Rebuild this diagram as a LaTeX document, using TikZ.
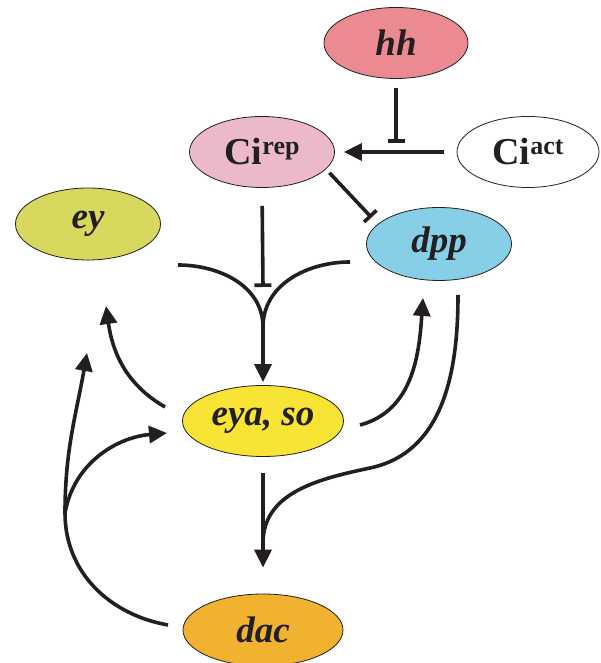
\documentclass[tikz,border=0pt]{standalone}
\usepackage{fontspec}
\setmainfont{Liberation Serif}
\usepackage{xcolor}
\usepackage{tikz}
\usetikzlibrary{arrows.meta,positioning,calc,shapes.geometric}
\definecolor{inkc}{RGB}{35,31,32}
\definecolor{hhc}{RGB}{236,138,145}
\definecolor{repc}{RGB}{236,185,203}
\definecolor{eyc}{RGB}{214,217,94}
\definecolor{dppc}{RGB}{134,207,230}
\definecolor{soc}{RGB}{247,228,53}
\definecolor{dacc}{RGB}{241,179,47}
\newcommand{\gene}[1]{\fontsize{37}{40}\selectfont\bfseries\itshape #1}
\newcommand{\cistate}[1]{\fontsize{38}{40}\selectfont\bfseries Ci\raisebox{10pt}{\fontsize{26}{28}\selectfont #1}}

\begin{document}
\begin{tikzpicture}[x=1pt,y=1pt,
    genebox/.style={ellipse,draw=inkc,line width=0.8pt,inner sep=0pt,text=inkc,
      minimum width=145pt,minimum height=72pt},
    act/.style={draw=inkc,line width=3.6pt,-{Triangle[length=18pt,width=17pt]}},
    inhib/.style={draw=inkc,line width=3.6pt,-{Bar[width=17pt]}},
    link/.style={draw=inkc,line width=3.6pt}]
\useasboundingbox (0,0) rectangle (600,663);
% genes
\node[genebox,fill=hhc,minimum width=144pt,minimum height=71pt] (hh) at (396,620) {\gene{hh}};
\node[genebox,fill=repc,minimum height=71pt] (cirep) at (262,511) {\cistate{rep}};
\node[genebox,fill=white,minimum width=142pt,minimum height=71pt] (ciact) at (528,511) {\cistate{act}};
\node[genebox,fill=eyc] (ey) at (88,439) {\gene{ey}};
\node[genebox,fill=dppc,minimum height=73pt] (dpp) at (439,419) {\gene{dpp}};
\node[genebox,fill=soc,minimum width=161pt,minimum height=71pt] (eya) at (263,242) {\gene{eya, so}};
\node[genebox,fill=dacc,minimum width=160pt] (dac) at (263,33) {\gene{dac}};
% free ends
\coordinate (eyin) at (178,398);
\coordinate (dppin) at (350,401);
\coordinate (merge) at (263,336);
\coordinate (cibar) at (263,376);
\coordinate (soup) at (165,256);
\coordinate (eytip) at (106,357);
\coordinate (soright) at (360,238);
\coordinate (dpptip) at (423,365);
\coordinate (dppout) at (458,368);
\coordinate (dppbend) at (370,195);
\coordinate (dacjoin) at (263,120);
\coordinate (dacout) at (168,38);
\coordinate (lowleft) at (65,150);
\coordinate (eytiptwo) at (87,310);
\coordinate (sotip) at (167,230);
% Ci regulation
\draw[inhib,shorten <=9pt,shorten >=9pt] (hh.south) -- (hh.south |- cirep.east);
\draw[act,shorten <=13pt,shorten >=9pt] (ciact.west) -- (cirep.east);
\draw[inhib,shorten <=5pt,shorten >=9pt] (cirep.-15) -- (dpp.162);
\draw[inhib,shorten <=18pt] (cirep.south) -- (cibar);
% inputs to eya, so
\draw[act,shorten >=3pt] (eyin) to[out=0,in=90] (merge) -- (eya.north);
\draw[link] (dppin) to[out=180,in=90] (merge);
% outputs of eya, so
\draw[act] (soup) to[out=150,in=-82] (eytip);
\draw[act] (soright) to[out=15,in=-94] (dpptip);
\draw[act,shorten <=16pt,shorten >=26pt] (eya.south) -- (dac.north);
\draw[link] (dppout) to[out=-90,in=12] (dppbend) to[out=192,in=90] (dacjoin);
% dac feedback
\draw[act] (dacout) to[out=170,in=-90] (lowleft) to[out=90,in=-100] (eytiptwo);
\draw[act] (lowleft) to[out=80,in=-175] (sotip);
\end{tikzpicture}
\end{document}
